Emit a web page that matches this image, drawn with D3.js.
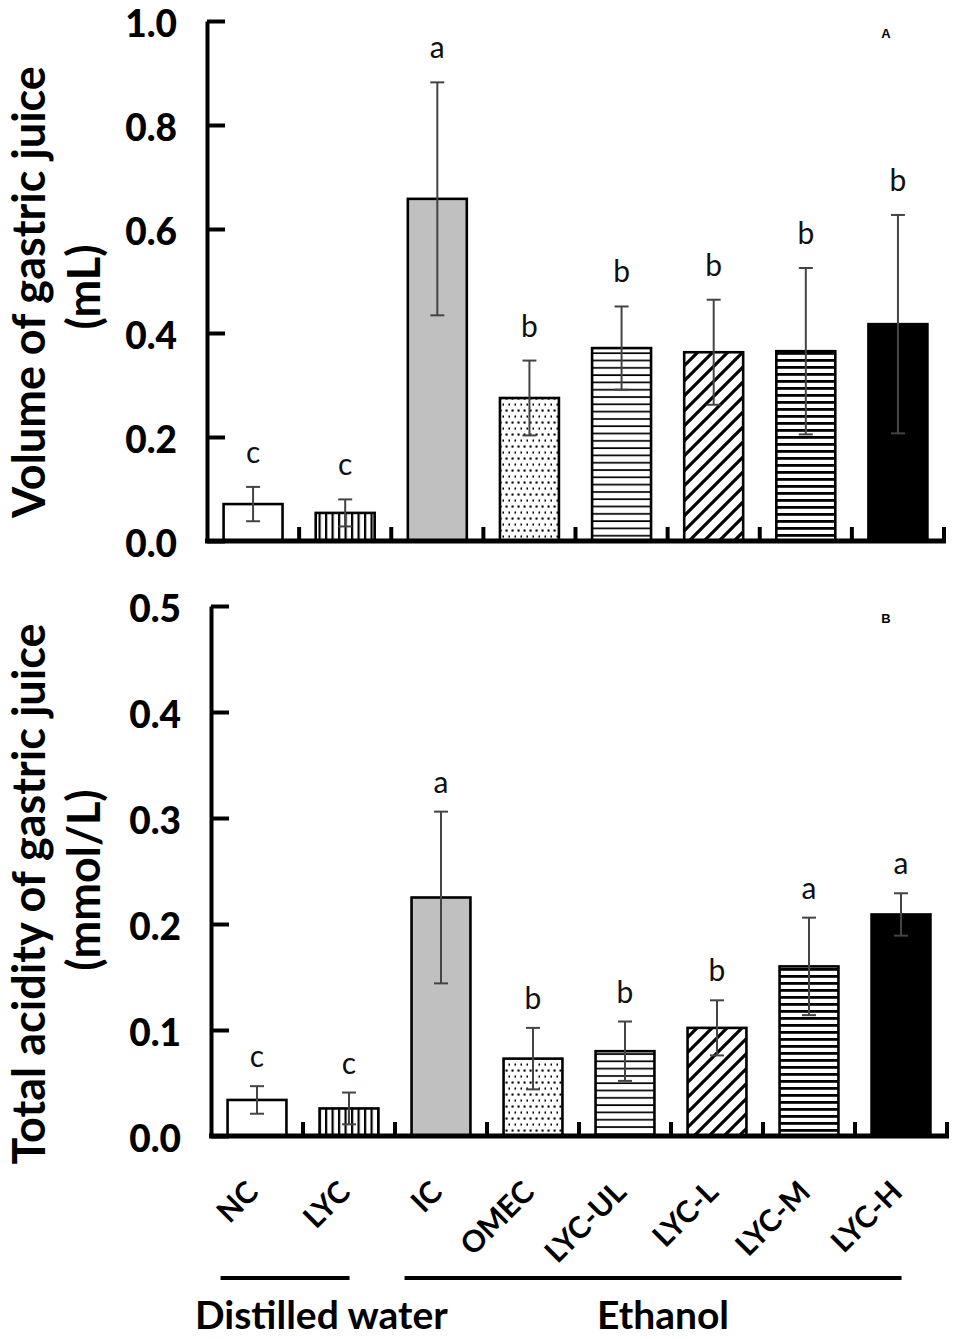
<!DOCTYPE html>
<meta charset="utf-8">
<style>
    body { margin: 0; background: #fff; }
    svg { display: block; }
    text { font-family: Lato, "Open Sans", sans-serif; fill: #000; }
</style>
<svg width="954" height="1339"></svg>
<script src="https://d3js.org/d3.v7.min.js"></script>
<script>
    // groups along the x axis
    var categories = ["NC", "LYC", "IC", "OMEC", "LYC-UL", "LYC-L", "LYC-M", "LYC-H"];

    // panel A: volume of gastric juice (mL), mean and SD
    var volumeMean = [0.071, 0.054, 0.658, 0.275, 0.371, 0.363, 0.365, 0.417];
    var volumeSD = [0.033, 0.026, 0.224, 0.072, 0.080, 0.101, 0.160, 0.210];
    var volumeLetters = ["c", "c", "a", "b", "b", "b", "b", "b"];
    var volumeTicks = [0, 0.2, 0.4, 0.6, 0.8, 1.0];

    // panel B: total acidity of gastric juice (mmol/L)
    var acidityMean = [0.034, 0.026, 0.225, 0.073, 0.080, 0.102, 0.160, 0.209];
    var aciditySD = [0.013, 0.015, 0.081, 0.029, 0.028, 0.026, 0.046, 0.020];
    var acidityLetters = ["c", "c", "a", "b", "b", "b", "a", "a"];
    var acidityTicks = [0, 0.1, 0.2, 0.3, 0.4, 0.5];

    var groupNames = ["Distilled water", "Ethanol"];
    var groupFirst = ["NC", "IC"];
    var groupLast = ["LYC", "LYC-H"];

    var svg = d3.select("svg");
    var defs = svg.append("defs");

    // fill patterns
    var p;
    p = defs.append("pattern").attr("id", "vlines").attr("patternUnits", "userSpaceOnUse")
        .attr("width", 6.5).attr("height", 10);
    p.append("rect").attr("x", 0).attr("width", 2.2).attr("height", 10).attr("fill", "#000");

    p = defs.append("pattern").attr("id", "dots").attr("patternUnits", "userSpaceOnUse")
        .attr("width", 6).attr("height", 12);
    p.append("rect").attr("x", 1.5).attr("y", 1.5).attr("width", 2.1).attr("height", 2.1).attr("fill", "#000");
    p.append("rect").attr("x", 4.5).attr("y", 7.5).attr("width", 2.1).attr("height", 2.1).attr("fill", "#000");

    p = defs.append("pattern").attr("id", "hthin").attr("patternUnits", "userSpaceOnUse")
        .attr("width", 10).attr("height", 7.3);
    p.append("rect").attr("y", 2).attr("width", 10).attr("height", 1.7).attr("fill", "#000");

    p = defs.append("pattern").attr("id", "diag").attr("patternUnits", "userSpaceOnUse")
        .attr("width", 15).attr("height", 15);
    p.append("path").attr("d", "M-4,19 L19,-4 M-4,4 L4,-4 M11,19 L19,11")
        .attr("stroke", "#000").attr("stroke-width", 3.2);

    p = defs.append("pattern").attr("id", "hthick").attr("patternUnits", "userSpaceOnUse")
        .attr("width", 10).attr("height", 7);
    p.append("rect").attr("y", 2).attr("width", 10).attr("height", 2.8).attr("fill", "#000");

    var fills = ["#fff", "url(#vlines)", "#c0c0c0", "url(#dots)", "url(#hthin)", "url(#diag)", "url(#hthick)", "#000"];

    function panel(opts) {
        var x = d3.scaleBand().domain(categories)
            .range([opts.left, opts.right])
            .paddingInner(0.36).paddingOuter(0.18);
        var y = d3.scaleLinear().domain([0, opts.max]).range([opts.bottom, opts.top]);
        var g = svg.append("g");

        // bars
        g.selectAll(".bar").data(opts.mean).enter().append("rect")
            .attr("x", function (d, i) { return x(categories[i]); })
            .attr("y", function (d) { return y(d); })
            .attr("width", x.bandwidth())
            .attr("height", function (d) { return y(0) - y(d); })
            .attr("fill", function (d, i) { return fills[i]; })
            .attr("stroke", "#000")
            .attr("stroke-width", 2.6);

        // error bars
        var eg = g.selectAll(".err").data(opts.mean).enter().append("g")
            .attr("stroke", "#444").attr("stroke-width", 2);
        eg.append("line")
            .attr("x1", function (d, i) { return x(categories[i]) + x.bandwidth() / 2; })
            .attr("x2", function (d, i) { return x(categories[i]) + x.bandwidth() / 2; })
            .attr("y1", function (d, i) { return y(d - opts.sd[i]); })
            .attr("y2", function (d, i) { return y(d + opts.sd[i]); });
        [-1, 1].forEach(function (s) {
            eg.append("line")
                .attr("x1", function (d, i) { return x(categories[i]) + x.bandwidth() / 2 - 7; })
                .attr("x2", function (d, i) { return x(categories[i]) + x.bandwidth() / 2 + 7; })
                .attr("y1", function (d, i) { return y(d + s * opts.sd[i]); })
                .attr("y2", function (d, i) { return y(d + s * opts.sd[i]); });
        });

        // significance letters
        g.selectAll(".letter").data(opts.letters).enter().append("text")
            .attr("x", function (d, i) { return x(categories[i]) + x.bandwidth() / 2; })
            .attr("y", function (d, i) { return y(opts.mean[i] + opts.sd[i]) - opts.gap; })
            .attr("text-anchor", "middle")
            .style("font-size", "30px")
            .style("fill", "#111")
            .text(function (d) { return d; });

        // y axis
        var ya = g.append("g")
            .attr("transform", "translate(" + opts.left + ",0)")
            .call(d3.axisLeft(y).tickValues(opts.ticks).tickFormat(d3.format(".1f"))
                .tickSizeInner(-18).tickSizeOuter(0).tickPadding(30));
        ya.select(".domain").attr("stroke-width", 4);
        ya.selectAll(".tick line").attr("stroke-width", 4);
        ya.selectAll(".tick text").style("font-size", "37px").style("font-weight", "900")
            .attr("dy", "0.42em");

        // x axis baseline
        var xa = g.append("g")
            .attr("transform", "translate(0," + opts.bottom + ")")
            .call(d3.axisBottom(x).tickSize(0).tickPadding(0));
        xa.select(".domain").attr("stroke-width", 5)
            .attr("d", "M" + (opts.left - 2) + ",0H" + (opts.right + 2));
        if (opts.labels) {
            xa.selectAll(".tick text")
                .attr("y", 0).attr("dy", 0)
                .attr("text-anchor", "end")
                .attr("transform", "translate(3,58) rotate(-45)")
                .style("font-size", "30px").style("font-weight", "bold");
        } else {
            xa.selectAll(".tick text").remove();
        }
        // small separator marks between groups
        g.selectAll(".sep").data(categories).enter().append("line")
            .attr("x1", function (d) { return x(d) - x.step() * 0.18 + x.step(); })
            .attr("x2", function (d) { return x(d) - x.step() * 0.18 + x.step(); })
            .attr("y1", opts.bottom)
            .attr("y2", opts.bottom - 14)
            .attr("stroke", "#000").attr("stroke-width", 4);

        // y titles
        g.append("text")
            .attr("transform", "translate(45," + opts.titleY + ") rotate(-90)")
            .attr("text-anchor", "middle")
            .style("font-size", "45px").style("font-weight", "bold")
            .text(opts.title);
        g.append("text")
            .attr("transform", "translate(100," + opts.unitY + ") rotate(-90)")
            .attr("text-anchor", "middle")
            .style("font-size", "45px").style("font-weight", "bold")
            .text(opts.unit);

        // panel letter
        g.append("text")
            .attr("x", 886).attr("y", opts.top + 17)
            .attr("text-anchor", "middle")
            .style("font-family", "Arial, 'Liberation Sans', sans-serif")
            .style("font-size", "13px").style("font-weight", "bold")
            .text(opts.tag);

        return x;
    }

    panel({
        left: 207, right: 944, top: 21, bottom: 541, max: 1.0,
        mean: volumeMean, sd: volumeSD, letters: volumeLetters, ticks: volumeTicks,
        gap: 24, title: "Volume of gastric juice", unit: "(mL)",
        titleY: 292, unitY: 287, tag: "A", labels: false
    });

    var xB = panel({
        left: 211, right: 947, top: 606, bottom: 1136, max: 0.5,
        mean: acidityMean, sd: aciditySD, letters: acidityLetters, ticks: acidityTicks,
        gap: 19, title: "Total acidity of gastric juice", unit: "(mmol/L)",
        titleY: 894, unitY: 880, tag: "B", labels: true
    });

    // treatment groups under the axis
    groupNames.forEach(function (name, i) {
        var x0 = xB(groupFirst[i]) - 7;
        var x1 = xB(groupLast[i]) + 30;
        svg.append("line")
            .attr("x1", x0).attr("x2", x1)
            .attr("y1", 1278).attr("y2", 1278)
            .attr("stroke", "#000").attr("stroke-width", 4);
        svg.append("text")
            .attr("x", i === 0 ? 195 : (x0 + x1) / 2 + 10)
            .attr("y", 1329)
            .attr("text-anchor", i === 0 ? "start" : "middle")
            .style("font-size", "39px").style("font-weight", "bold")
            .text(name);
    });
</script>
